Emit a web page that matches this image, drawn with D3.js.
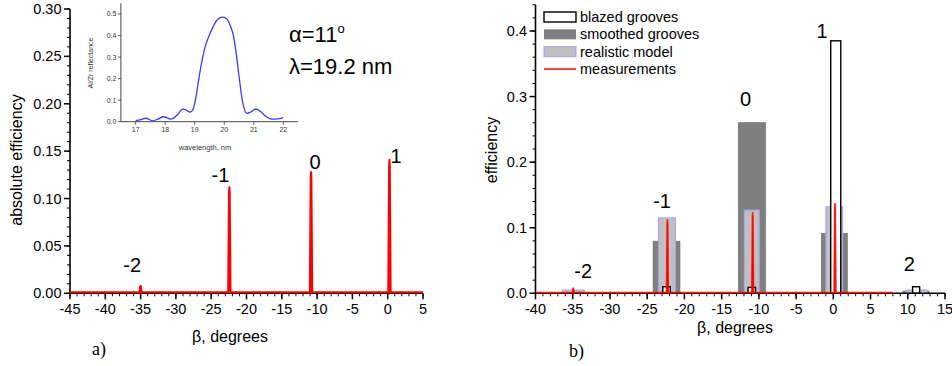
<!DOCTYPE html>
<html><head><meta charset="utf-8">
<script src="https://cdn.jsdelivr.net/npm/d3@7"></script>
<style>
body{margin:0;background:#fff}
text{font-family:Arial,"Liberation Sans",sans-serif;fill:#000}
</style>
</head><body><svg id="c" width="952" height="366"></svg>
<script>
// ---------- DATA ----------
// Panel a) measured absolute efficiency vs beta
const leftMeasBeta = [-45, -35.15, -35.05, -35.0, -34.95, -34.85, -22.6, -22.48, -22.43, -22.38, -22.26, -11.03, -10.91, -10.86, -10.81, -10.69, 0.08, 0.2, 0.25, 0.3, 0.42, 5];
const leftMeasEff  = [0.001, 0.001, 0.007, 0.008, 0.007, 0.001, 0.001, 0.106, 0.112, 0.106, 0.001, 0.001, 0.122, 0.128, 0.122, 0.001, 0.001, 0.134, 0.141, 0.134, 0.001, 0.001];
const leftOrderLabels = ["-2", "-1", "0", "1"];
const leftOrderBeta   = [-36.2, -23.7, -10.3, 1.2];
const leftOrderEff    = [0.022, 0.117, 0.131, 0.138];
const leftXTicks = [-45, -40, -35, -30, -25, -20, -15, -10, -5, 0, 5];
const leftYTicks = [0.00, 0.05, 0.10, 0.15, 0.20, 0.25, 0.30];

// Inset: Al/Zr reflectance vs wavelength
const insetWl = [17.0, 17.15, 17.34, 17.58, 17.75, 17.94, 18.19, 18.4, 18.59, 18.7, 18.84, 18.95, 19.05, 19.14, 19.27, 19.38, 19.49, 19.62, 19.78, 19.95, 20.1, 20.22, 20.31, 20.42, 20.51, 20.61, 20.76, 20.9, 21.07, 21.25, 21.4, 21.6, 21.8, 22.0];
const insetR  = [0.005, 0.008, 0.016, 0.004, 0.012, 0.023, 0.012, 0.03, 0.058, 0.055, 0.044, 0.06, 0.12, 0.2, 0.3, 0.36, 0.4, 0.44, 0.475, 0.485, 0.475, 0.44, 0.4, 0.3, 0.2, 0.1, 0.039, 0.045, 0.059, 0.045, 0.025, 0.012, 0.013, 0.019];
const insetXTicks = [17, 18, 19, 20, 21, 22];
const insetYTicks = [0.0, 0.1, 0.2, 0.3, 0.4, 0.5];

// Panel b) efficiency models (bars given by left/right beta edges) and measurements
const blazedX0  = [-22.9, -11.45, -0.35, 10.65];
const blazedX1  = [-21.9, -10.45, 1.0, 11.6];
const blazedEff = [0.010, 0.009, 0.385, 0.010];
const smoothX0  = [-24.25, -12.8, -1.65, 9.3];
const smoothX1  = [-20.55, -9.05, 1.95, 12.9];
const smoothEff = [0.080, 0.261, 0.092, 0.004];
const realX0    = [-36.4, -23.5, -11.95, -1.0, 9.7];
const realX1    = [-33.4, -21.2, -9.95, 1.25, 12.6];
const realEff   = [0.005, 0.115, 0.127, 0.132, 0.005];
const rightMeasBeta = [-40, -35.05, -34.97, -34.93, -34.89, -34.81, -22.4, -22.32, -22.28, -22.24, -22.16, -10.95, -10.87, -10.83, -10.79, -10.71, 0.11, 0.19, 0.23, 0.27, 0.35, 8];
const rightMeasEff  = [0.001, 0.001, 0.007, 0.008, 0.007, 0.001, 0.001, 0.106, 0.112, 0.106, 0.001, 0.001, 0.117, 0.123, 0.117, 0.001, 0.001, 0.13, 0.137, 0.13, 0.001, 0.001];
const rightOrderLabels = ["-2", "-1", "0", "1", "2"];
const rightOrderBeta   = [-33.6, -23.0, -11.8, -1.5, 10.2];
const rightOrderEff    = [0.023, 0.130, 0.285, 0.390, 0.034];
const rightXTicks = [-40, -35, -30, -25, -20, -15, -10, -5, 0, 5, 10, 15];
const rightYTicks = [0.0, 0.1, 0.2, 0.3, 0.4];
const legendNames = ["blazed grooves", "smoothed grooves", "realistic model", "measurements"];

// ---------- DRAW ----------
const svg = d3.select("#c");
svg.append("rect").attr("width", 952).attr("height", 366).attr("fill", "#fff");
const hy = d => String(d).replace("\u2212", "-");

function drawAxes(g, x, y, xt, yt, xMinor, yMinor, xfmt, yfmt, fs) {
  const ax = g.append("g");
  const xd = x.domain(), yd = y.domain();
  ax.selectAll(".xm").data(xMinor).join("line")
    .attr("x1", d => x(d)).attr("x2", d => x(d))
    .attr("y1", y(yd[0])).attr("y2", y(yd[0]) + 3).attr("stroke", "#000").attr("stroke-width", 1);
  ax.selectAll(".ym").data(yMinor).join("line")
    .attr("y1", d => y(d)).attr("y2", d => y(d))
    .attr("x1", x(xd[0])).attr("x2", x(xd[0]) - 3).attr("stroke", "#000").attr("stroke-width", 1);
  ax.selectAll(".xM").data(xt).join("line")
    .attr("x1", d => x(d)).attr("x2", d => x(d))
    .attr("y1", y(yd[0])).attr("y2", y(yd[0]) + 6).attr("stroke", "#000").attr("stroke-width", 1.5);
  ax.selectAll(".yM").data(yt).join("line")
    .attr("y1", d => y(d)).attr("y2", d => y(d))
    .attr("x1", x(xd[0])).attr("x2", x(xd[0]) - 6).attr("stroke", "#000").attr("stroke-width", 1.5);
  ax.append("line").attr("x1", x(xd[0])).attr("x2", x(xd[1])).attr("y1", y(yd[0])).attr("y2", y(yd[0]))
    .attr("stroke", "#000").attr("stroke-width", 1.6);
  ax.append("line").attr("x1", x(xd[0])).attr("x2", x(xd[0])).attr("y1", y(yd[0])).attr("y2", y(yd[1]))
    .attr("stroke", "#000").attr("stroke-width", 1.6);
  ax.selectAll(".xl").data(xt).join("text")
    .attr("x", d => x(d)).attr("y", y(yd[0]) + 21).attr("text-anchor", "middle")
    .attr("font-size", fs).text(xfmt);
  ax.selectAll(".yl").data(yt).join("text")
    .attr("x", x(xd[0]) - 8.5).attr("y", d => y(d) + 5).attr("text-anchor", "end")
    .attr("font-size", fs).text(yfmt);
}

// ===== Panel a =====
const xa = d3.scaleLinear().domain([-45, 5]).range([70, 423]);
const ya = d3.scaleLinear().domain([0, 0.30]).range([293.3, 9]);
const ga = svg.append("g");
drawAxes(ga, xa, ya, leftXTicks, leftYTicks,
  d3.range(-45, 5.01, 1), d3.range(0, 0.301, 0.01),
  d => hy(d), d => d3.format(".2f")(d), 14.5);
ga.append("path")
  .attr("d", d3.line().x((d, i) => xa(leftMeasBeta[i])).y((d, i) => ya(leftMeasEff[i]))(leftMeasBeta))
  .attr("fill", "#ff0000").attr("stroke", "#ff0000").attr("stroke-width", 2).attr("stroke-linejoin", "round");
ga.selectAll(".ol").data(leftOrderLabels).join("text")
  .attr("x", (d, i) => xa(leftOrderBeta[i])).attr("y", (d, i) => ya(leftOrderEff[i]))
  .attr("text-anchor", "middle").attr("font-size", 20).text(d => d);
ga.append("text").attr("transform", "translate(22,160) rotate(-90)").attr("text-anchor", "middle")
  .attr("font-size", 16).text("absolute efficiency");
ga.append("text").attr("x", 230).attr("y", 342).attr("text-anchor", "middle").attr("font-size", 16).text("\u03b2, degrees");
ga.append("text").attr("x", 92).attr("y", 355).attr("font-size", 18)
  .style("font-family", "'Liberation Serif','Times New Roman',serif").text("a)");
const at = ga.append("text").attr("x", 289).attr("y", 42).attr("font-size", 22);
at.append("tspan").text("\u03b1=11");
at.append("tspan").attr("font-size", 13).attr("dy", -9).text("o");
ga.append("text").attr("x", 289).attr("y", 74).attr("font-size", 22).text("\u03bb=19.2 nm");

// ===== Inset =====
const xi = d3.scaleLinear().domain([16.5, 22.5]).range([120.9, 298.1]);
const yi = d3.scaleLinear().domain([0, 0.55]).range([121.7, 3.2]);
const gi = svg.append("g");
gi.selectAll(".ixt").data(insetXTicks).join("line")
  .attr("x1", d => xi(d)).attr("x2", d => xi(d)).attr("y1", yi(0)).attr("y2", yi(0) + 3)
  .attr("stroke", "#333").attr("stroke-width", 0.8);
gi.selectAll(".iyt").data(insetYTicks).join("line")
  .attr("y1", d => yi(d)).attr("y2", d => yi(d)).attr("x1", xi(16.5)).attr("x2", xi(16.5) - 3)
  .attr("stroke", "#333").attr("stroke-width", 0.8);
gi.append("line").attr("x1", xi(16.5)).attr("x2", xi(22.5)).attr("y1", yi(0)).attr("y2", yi(0)).attr("stroke", "#333").attr("stroke-width", 0.9);
gi.append("line").attr("x1", xi(16.5)).attr("x2", xi(16.5)).attr("y1", yi(0)).attr("y2", yi(0.55)).attr("stroke", "#333").attr("stroke-width", 0.9);
gi.selectAll(".ixl").data(insetXTicks).join("text")
  .attr("x", d => xi(d)).attr("y", yi(0) + 10.5).attr("text-anchor", "middle")
  .attr("font-size", 7).style("fill", "#333").text(d => d);
gi.selectAll(".iyl").data(insetYTicks).join("text")
  .attr("x", xi(16.5) - 4.5).attr("y", d => yi(d) + 2.5).attr("text-anchor", "end")
  .attr("font-size", 7).style("fill", "#333").text(d => d3.format(".1f")(d));
gi.append("text").attr("transform", "translate(93,63) rotate(-90)").attr("text-anchor", "middle")
  .attr("font-size", 7).style("fill", "#333").text("Al/Zr  reflectance");
gi.append("text").attr("x", 205).attr("y", 150).attr("text-anchor", "middle")
  .attr("font-size", 7.5).style("fill", "#333").text("wavelength, nm");
gi.append("path")
  .attr("d", d3.line().curve(d3.curveMonotoneX).x((d, i) => xi(insetWl[i])).y((d, i) => yi(insetR[i]))(insetWl))
  .attr("fill", "none").attr("stroke", "#3a3aff").attr("stroke-width", 1.3);

// ===== Panel b =====
const xb = d3.scaleLinear().domain([-40, 15]).range([535.5, 945]);
const yb = d3.scaleLinear().domain([0, 0.44]).range([293.3, 4.75]);
const gb = svg.append("g");
const gbBars = gb.append("g");
gbBars.selectAll(".sm").data(smoothEff).join("rect")
  .attr("x", (d, i) => xb(smoothX0[i])).attr("width", (d, i) => xb(smoothX1[i]) - xb(smoothX0[i]))
  .attr("y", d => yb(d)).attr("height", d => yb(0) - yb(d)).attr("fill", "#7f7f7f");
gbBars.selectAll(".re").data(realEff).join("rect")
  .attr("x", (d, i) => xb(realX0[i])).attr("width", (d, i) => xb(realX1[i]) - xb(realX0[i]))
  .attr("y", d => yb(d)).attr("height", d => yb(0) - yb(d))
  .attr("fill", "#c0c0c0").attr("stroke", "#a4a4f0").attr("stroke-width", 1);
gbBars.selectAll(".bl").data(blazedEff).join("rect")
  .attr("x", (d, i) => xb(blazedX0[i])).attr("width", (d, i) => xb(blazedX1[i]) - xb(blazedX0[i]))
  .attr("y", d => yb(d)).attr("height", d => yb(0) - yb(d))
  .attr("fill", "#fff").attr("stroke", "#000").attr("stroke-width", 1.4);
drawAxes(gb, xb, yb, rightXTicks, rightYTicks,
  d3.range(-40, 15.01, 1), d3.range(0, 0.441, 0.02),
  d => hy(d), d => d3.format(".1f")(d), 14.5);
gb.append("path")
  .attr("d", d3.line().x((d, i) => xb(rightMeasBeta[i])).y((d, i) => yb(rightMeasEff[i]))(rightMeasBeta))
  .attr("fill", "#ff0000").attr("stroke", "#ff0000").attr("stroke-width", 1.6)
  .attr("stroke-opacity", 0.85).attr("stroke-linejoin", "round");
gb.selectAll(".ol").data(rightOrderLabels).join("text")
  .attr("x", (d, i) => xb(rightOrderBeta[i])).attr("y", (d, i) => yb(rightOrderEff[i]))
  .attr("text-anchor", "middle").attr("font-size", 20).text(d => d);
gb.append("text").attr("transform", "translate(497,150) rotate(-90)").attr("text-anchor", "middle")
  .attr("font-size", 16).text("efficiency");
gb.append("text").attr("x", 735).attr("y", 333).attr("text-anchor", "middle").attr("font-size", 16).text("\u03b2, degrees");
gb.append("text").attr("x", 569).attr("y", 357).attr("font-size", 18)
  .style("font-family", "'Liberation Serif','Times New Roman',serif").text("b)");

// legend
const lg = gb.append("g");
const rowY = d3.scaleLinear().domain([0, 3]).range([17, 69]);
const legStyle = [
  {fill: "#fff", stroke: "#000", sw: 1.4},
  {fill: "#7f7f7f", stroke: "none", sw: 0},
  {fill: "#c0c0c0", stroke: "#a4a4f0", sw: 1}
];
legendNames.forEach((n, i) => {
  const cy = rowY(i);
  if (i < 3) {
    lg.append("rect").attr("x", 544).attr("y", cy - 5).attr("width", 32).attr("height", 10)
      .attr("fill", legStyle[i].fill).attr("stroke", legStyle[i].stroke).attr("stroke-width", legStyle[i].sw);
  } else {
    lg.append("line").attr("x1", 544).attr("x2", 576).attr("y1", cy).attr("y2", cy)
      .attr("stroke", "#ff0000").attr("stroke-width", 1.5);
  }
  lg.append("text").attr("x", 580).attr("y", cy + 5).attr("font-size", 14.5).text(n);
});
</script>
</body></html>
